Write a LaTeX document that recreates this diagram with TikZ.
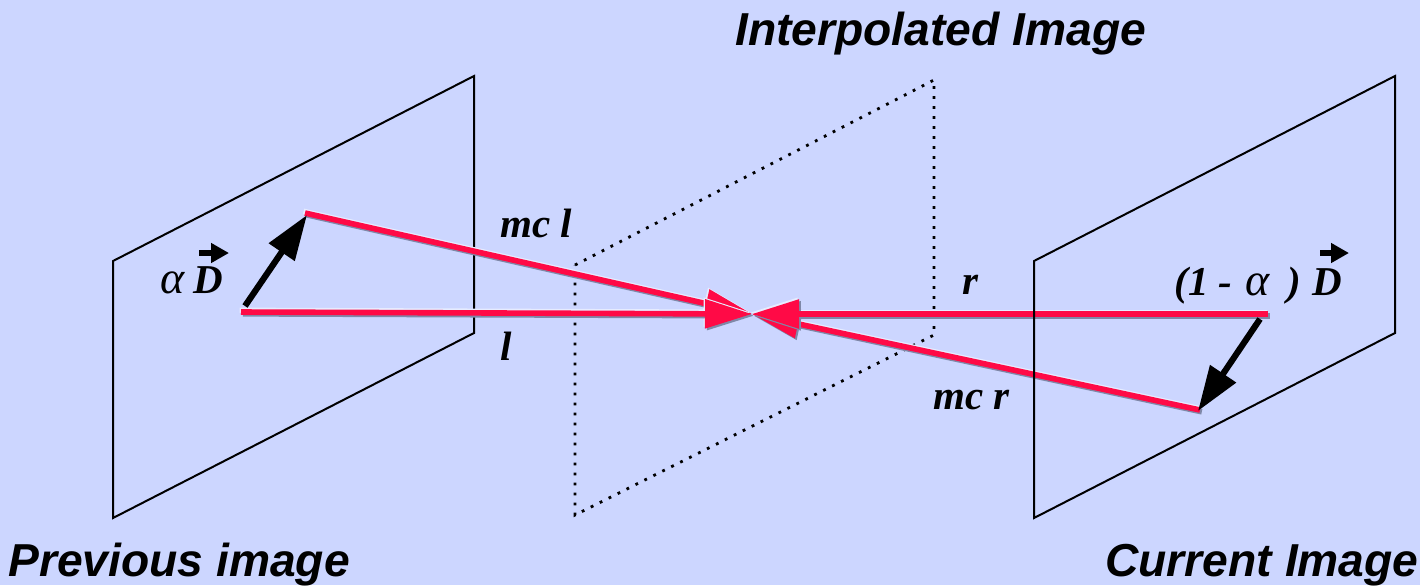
\documentclass[tikz,border=0pt]{standalone}
\usepackage{fontspec}
\setmainfont{Liberation Serif}
\setsansfont{Liberation Sans}
\usetikzlibrary{arrows.meta}
\definecolor{paper}{HTML}{CCD6FF}
\definecolor{ink}{HTML}{000000}
\definecolor{beam}{HTML}{FF0A46}
\definecolor{beamshade}{HTML}{7F88A8}
\definecolor{beamlight}{HTML}{E6ECFF}
\tikzset{
  every node/.style={text=ink,inner sep=0pt,anchor=base west},
  plane/.style={draw=ink,line width=1pt,line join=miter},
  midplane/.style={draw=ink,line width=1.4pt,dash pattern=on 1.4pt off 3.6pt},
  beamline/.style={line width=2.8pt,-{Triangle[length=23.5pt,width=14pt]}},
  disparrow/.style={draw=ink,line width=3.1pt,-{Triangle[length=22.5pt,width=15pt]}},
  vecbar/.style={draw=ink,line width=3pt,-{Triangle[length=9pt,width=9.5pt]}},
  title/.style={font=\sffamily\bfseries\itshape\fontsize{23.1}{25}\selectfont},
  label/.style={font=\bfseries\itshape\fontsize{20.5}{23}\selectfont},
  greek/.style={font=\itshape\fontsize{23}{25}\selectfont},
}

\begin{document}
\begin{tikzpicture}[x=0.5pt,y=-0.5pt]
\useasboundingbox[fill=paper] (0,0) rectangle (1420,585);

\draw[midplane] (575,265) -- (934,80) -- (934,335) -- (575,515) -- cycle;
\draw[plane] (113,261) -- (474,76) -- (474,333) -- (113,518) -- cycle;

\coordinate (mid) at (752,314);
\coordinate (prevtop) at (305,213);
\coordinate (prevbase) at (241,312);
\coordinate (curbase) at (1268,314);
\coordinate (curlow) at (1200,410);

% motion compensated rays
\foreach \from in {prevtop,prevbase,curlow,curbase}{
  \draw[beamline,draw=beamlight,transform canvas={shift={(-0.7pt,0.8pt)}}] (\from) -- (mid);
  \draw[beamline,draw=beamshade,transform canvas={shift={(0.9pt,-0.9pt)}}] (\from) -- (mid);
  \draw[beamline,draw=beam] (\from) -- (mid);
}

\draw[plane] (1034,261) -- (1395,76) -- (1395,333) -- (1034,518) -- cycle;

% displacement
\coordinate (prevfoot) at (245,306);
\coordinate (prevtip) at (307,215);
\coordinate (curfoot) at (1260,319);
\coordinate (curtip) at (1198,411);
\draw[disparrow] (prevfoot) -- (prevtip);
\draw[disparrow] (curfoot) -- (curtip);

% labels
\node[title] (interp) at (735,45) {Interpolated Image};
\node[title] (prev) at (8,576) {Previous image};
\node[title] (cur) at (1105,576) {Current Image};
\node[label] (mcl) at (500,237) {mc l};
\node[label] (lleft) at (500,360) {l};
\node[label] (rright) at (962,294) {r};
\node[label] (mcr) at (933,409) {mc r};

\node[greek] (alphal) at (160,293) {α};
\node[label] (dl) at (193,293) {D};
\coordinate (dlbar) at (199,253);
\coordinate (dltip) at (229,253);
\draw[vecbar] (dlbar) -- (dltip);

\node[label] (open) at (1174,295) {(1 -};
\node[greek] (alphar) at (1245,295) {α};
\node[label] (close) at (1287,295) {)};
\node[label] (dr) at (1312,295) {D};
\coordinate (drbar) at (1320,253);
\coordinate (drtip) at (1349,253);
\draw[vecbar] (drbar) -- (drtip);

\end{tikzpicture}
\end{document}
